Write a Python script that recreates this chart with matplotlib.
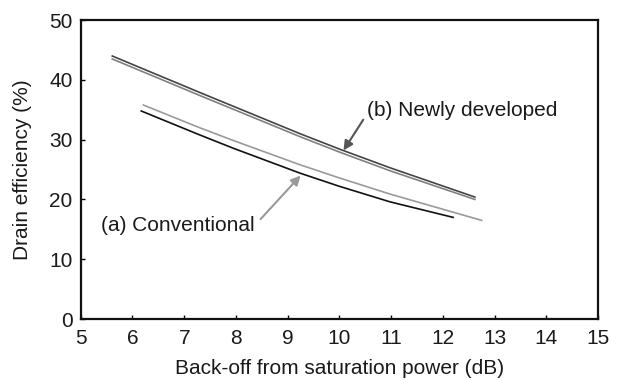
import matplotlib
matplotlib.use("Agg")
import matplotlib.pyplot as plt

plt.rcParams['font.family'] = ['Liberation Sans', 'DejaVu Sans']

# (b) Newly developed: two traces
b_dark_x = [5.61, 7.30, 9.24, 10.04, 10.98, 12.62]
b_dark_y = [44.0, 37.9, 31.0, 28.3, 25.3, 20.4]
b_gray_x = [5.61, 7.30, 9.24, 10.04, 10.98, 12.62]
b_gray_y = [43.5, 37.4, 30.5, 27.8, 24.8, 20.0]

# (a) Conventional: two traces
a_black_x = [6.17, 7.30, 7.97, 9.24, 10.0, 10.98, 12.2]
a_black_y = [34.8, 30.8, 28.5, 24.4, 22.2, 19.6, 17.0]
a_gray_x = [6.21, 7.30, 7.97, 9.24, 10.0, 10.98, 12.75]
a_gray_y = [35.8, 32.0, 29.8, 25.8, 23.6, 20.9, 16.5]

x_ticks = list(range(5, 16))
y_ticks = [0, 10, 20, 30, 40, 50]

fig = plt.figure(figsize=(6.21, 3.80), dpi=100)
ax = fig.add_axes([0.130, 0.1605, 0.833, 0.7865])

ax.plot(b_dark_x, b_dark_y, color='#444444', lw=1.2)
ax.plot(b_gray_x, b_gray_y, color='#808080', lw=1.2)
ax.plot(a_black_x, a_black_y, color='#111111', lw=1.2)
ax.plot(a_gray_x, a_gray_y, color='#9a9a9a', lw=1.2)

ax.annotate('(b) Newly developed', xy=(10.08, 28.2), xytext=(10.53, 34.9),
            fontsize=15, color='#1a1a1a', va='center', ha='left',
            arrowprops=dict(arrowstyle='-|>', color='#555555', lw=1.5,
                            mutation_scale=14, shrinkA=1, shrinkB=0,
                            relpos=(0.0, 0.3)))
ax.annotate('(a) Conventional', xy=(9.25, 24.0), xytext=(5.40, 15.7),
            fontsize=15, color='#1a1a1a', va='center', ha='left',
            arrowprops=dict(arrowstyle='-|>', color='#999999', lw=1.5,
                            mutation_scale=14, shrinkA=3, shrinkB=0,
                            relpos=(1.0, 0.5)))

ax.set_xlim(5, 15)
ax.set_ylim(0, 50)
ax.set_xticks(x_ticks)
ax.set_yticks(y_ticks)
ax.tick_params(direction='in', length=3, width=1, labelsize=15,
               labelcolor='#1a1a1a')
ax.tick_params(axis='x', pad=7)
ax.tick_params(axis='y', pad=6)
for s in ax.spines.values():
    s.set_linewidth(1.6)
    s.set_color('#111111')

ax.set_xlabel('Back-off from saturation power (dB)', fontsize=15, color='#1a1a1a', labelpad=8)
ax.set_ylabel('Drain efficiency (%)', fontsize=15, color='#1a1a1a', labelpad=12)

fig.savefig('out.png', dpi=100)
